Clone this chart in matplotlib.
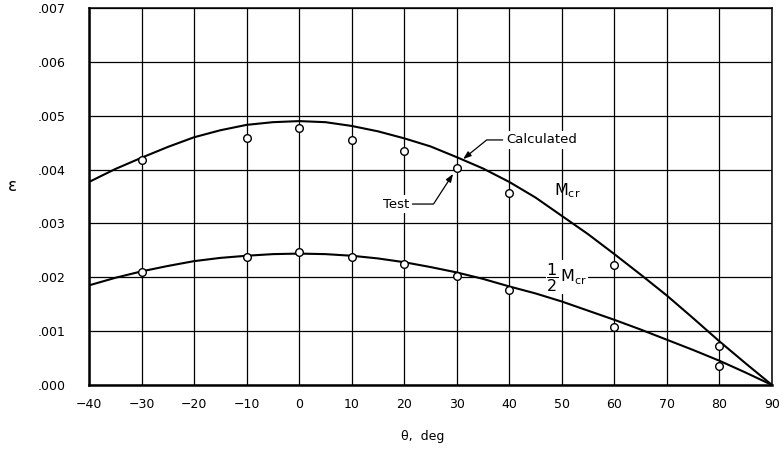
import matplotlib
matplotlib.use('Agg')
import matplotlib.pyplot as plt

# calculated curves, read every 5 deg (values x 1e-3)
theta_calc = [-40, -35, -30, -25, -20, -15, -10, -5, 0, 5, 10, 15, 20, 25, 30,
              35, 40, 45, 50, 55, 60, 65, 70, 75, 80, 85, 90]
eps_mcr = [3.77, 4.01, 4.22, 4.42, 4.60, 4.73, 4.83, 4.88, 4.90, 4.88, 4.81, 4.71,
           4.58, 4.43, 4.23, 4.02, 3.77, 3.48, 3.14, 2.80, 2.43, 2.05, 1.66, 1.24,
           0.81, 0.40, 0.0]
eps_half = [1.85, 1.99, 2.11, 2.21, 2.30, 2.36, 2.40, 2.43, 2.44, 2.43, 2.40, 2.35,
            2.28, 2.19, 2.09, 1.97, 1.83, 1.70, 1.55, 1.38, 1.21, 1.03, 0.84, 0.65,
            0.45, 0.23, 0.0]

# test points
theta_test = [-30, -10, 0, 10, 20, 30, 40, 60, 80]
test_mcr = [4.18, 4.59, 4.78, 4.55, 4.35, 4.03, 3.57, 2.23, 0.72]
test_half = [2.10, 2.38, 2.47, 2.38, 2.25, 2.03, 1.77, 1.08, 0.35]

xticks = [-40, -30, -20, -10, 0, 10, 20, 30, 40, 50, 60, 70, 80, 90]
xtick_labels = ['\u221240', '\u221230', '\u221220', '\u221210', '0', '10', '20', '30',
                '40', '50', '60', '70', '80', '90']
yticks = [0, 0.001, 0.002, 0.003, 0.004, 0.005, 0.006, 0.007]
ytick_labels = ['.000', '.001', '.002', '.003', '.004', '.005', '.006', '.007']

plt.rcParams['font.family'] = 'DejaVu Sans'
plt.rcParams['mathtext.fontset'] = 'dejavusans'

fig = plt.figure(figsize=(7.83, 4.5), dpi=100)
ax = fig.add_axes([89/783, 65/450, 683/783, 377/450])

sc = lambda v: [e * 1e-3 for e in v]

ax.plot(theta_calc, sc(eps_mcr), color='black', lw=1.5, zorder=3)
ax.plot(theta_calc, sc(eps_half), color='black', lw=1.5, zorder=3)
ax.plot(theta_test, sc(test_mcr), 'o', mfc='white', mec='black', mew=1.0, ms=5.5, zorder=4)
ax.plot(theta_test, sc(test_half), 'o', mfc='white', mec='black', mew=1.0, ms=5.5, zorder=4)

ax.set_xlim(-40, 90)
ax.set_ylim(0, 0.007)
ax.set_xticks(xticks)
ax.set_xticklabels(xtick_labels)
ax.set_yticks(yticks)
ax.set_yticklabels(ytick_labels)
ax.tick_params(length=0, labelsize=9)
ax.tick_params(axis='y', pad=17)
ax.tick_params(axis='x', pad=9)
ax.grid(True, color='black', lw=0.9)
ax.set_axisbelow(True)
for s in ['left', 'bottom']:
    ax.spines[s].set_linewidth(1.8)
for s in ['top', 'right']:
    ax.spines[s].set_linewidth(1.1)

ax.set_xlabel('\u03b8,  deg', fontsize=9)
ax.xaxis.set_label_coords(0.488, -0.12)
ax.set_ylabel('\u03b5', fontsize=12, rotation=0)
ax.yaxis.set_label_coords(-0.112, 0.505)

box = dict(facecolor='white', edgecolor='none', pad=1.5)
arrow = dict(arrowstyle='-|>,head_length=0.5,head_width=0.18', color='black', lw=0.9,
             shrinkA=1, shrinkB=0)

ax.annotate('Calculated', xy=(31.2, 0.004195), xytext=(39.4, 0.00455),
            fontsize=9.5, ha='left', va='center', bbox=box, zorder=5,
            arrowprops=dict(arrow, relpos=(0, 0.5),
                            connectionstyle='angle,angleA=0,angleB=39,rad=0'))
ax.annotate('Test', xy=(29.3, 0.00392), xytext=(20.9, 0.00336),
            fontsize=9.5, ha='right', va='center', bbox=box, zorder=5,
            arrowprops=dict(arrow, relpos=(1, 0.5),
                            connectionstyle='angle,angleA=0,angleB=57,rad=0'))

ax.text(48.6, 0.00360, r'$\mathrm{M}_{\mathrm{cr}}$', fontsize=11.5, ha='left',
        va='center', zorder=5)
ax.text(51.0, 0.00200, r'$\dfrac{1}{2}\,\mathrm{M}_{\mathrm{cr}}$', fontsize=11.5,
        ha='center', va='center', bbox=dict(box, pad=0.5), zorder=5)

fig.savefig('out.png', dpi=100)
